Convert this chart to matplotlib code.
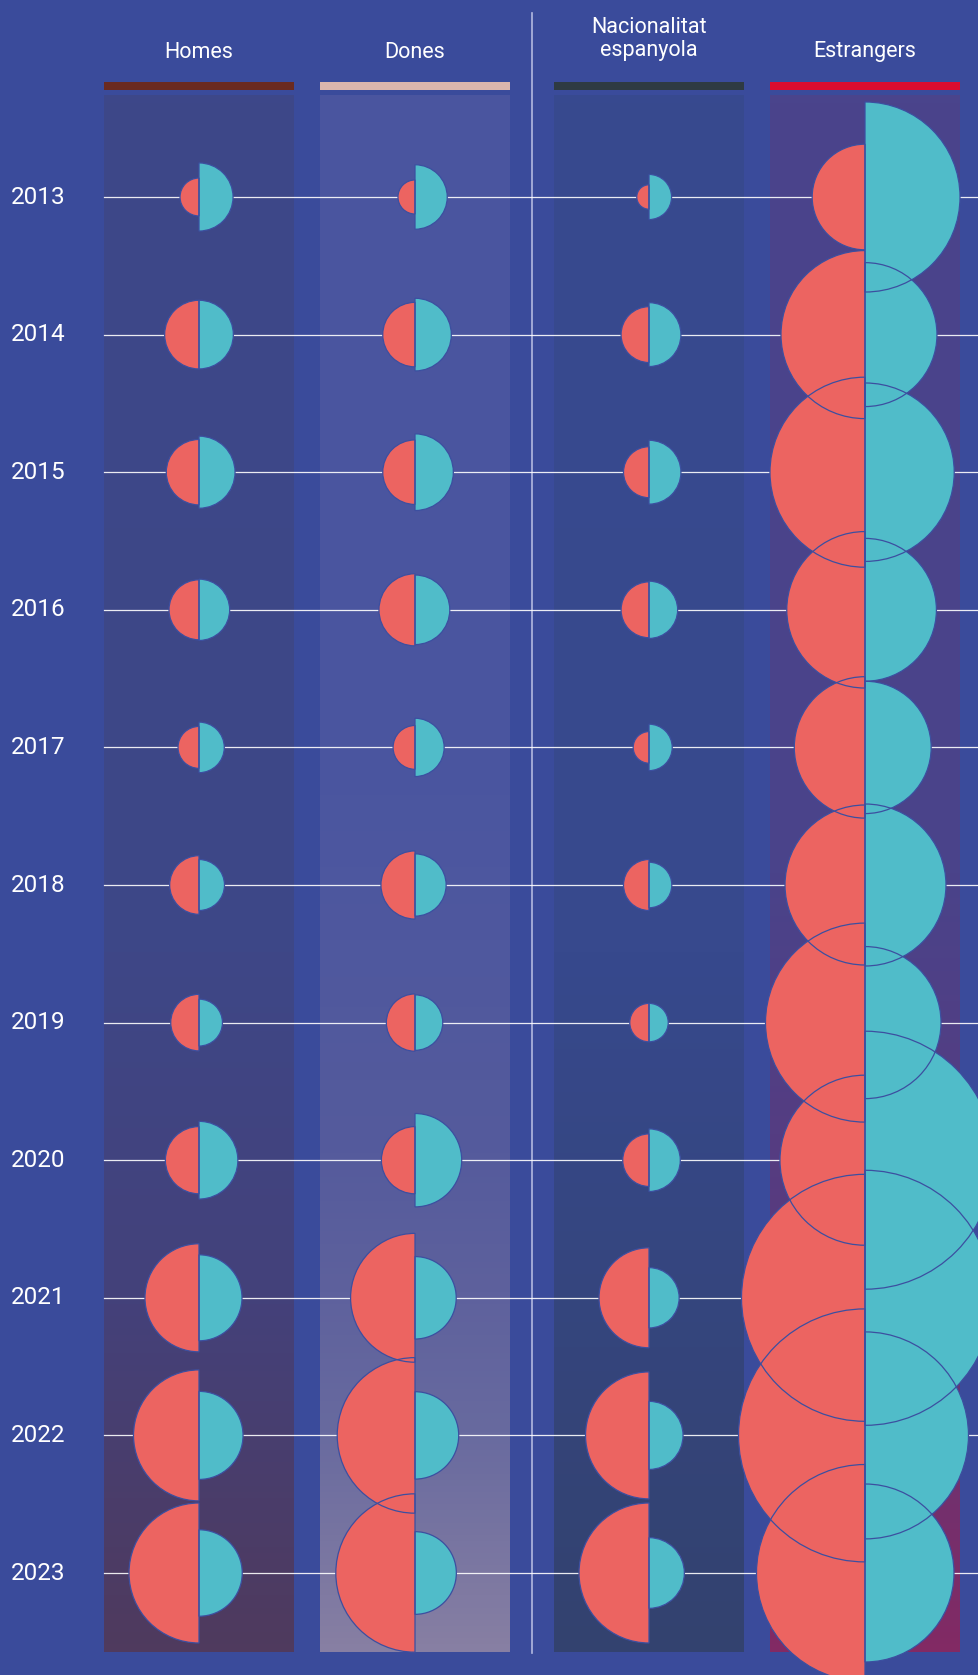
import matplotlib.pyplot as plt
import numpy as np
from matplotlib.patches import Wedge, Rectangle
from matplotlib.colors import LinearSegmentedColormap
from matplotlib import font_manager

# ---------------------------------------------------------------------------
# data (values are area-proportional; radius = 10 * sqrt(value))
years = ['2013', '2014', '2015', '2016', '2017', '2018', '2019', '2020', '2021', '2022', '2023']
groups = ['Homes', 'Dones', 'Nacionalitat\nespanyola', 'Estrangers']

homes_left = [3.6, 11.8, 10.7, 9.0, 4.4, 8.6, 8.0, 11.3, 29.2, 42.9, 49.0]
homes_right = [11.6, 11.8, 13.0, 9.4, 6.4, 6.5, 5.5, 15.1, 18.5, 19.4, 18.7]
dones_left = [2.9, 10.4, 10.4, 13.0, 4.8, 11.6, 8.2, 11.3, 41.5, 60.5, 62.7]
dones_right = [10.4, 13.2, 14.7, 12.1, 8.5, 9.7, 7.7, 21.8, 17.0, 19.1, 17.1]
nac_left = [1.5, 7.8, 6.5, 7.8, 2.5, 6.5, 3.7, 6.9, 25.0, 40.3, 49.0]
nac_right = [5.1, 10.2, 10.2, 8.2, 5.4, 5.2, 3.7, 9.8, 9.1, 11.6, 12.5]
estr_left = [27.9, 70.6, 90.3, 61.2, 50.0, 64.0, 99.0, 72.3, 152.5, 160.0, 117.7]
estr_right = [90.3, 51.8, 79.6, 51.0, 43.8, 65.6, 57.8, 166.4, 162.6, 107.1, 79.2]

left_vals = [homes_left, dones_left, nac_left, estr_left]
right_vals = [homes_right, dones_right, nac_right, estr_right]

# ---------------------------------------------------------------------------
bg = '#3a4b9b'
coral = '#ec6461'
cyan = '#50bcc9'
edge = '#3c4fa0'
bar_colors = ['#6a2a20', '#dbb6ad', '#2e3a42', '#dc0c2e']
panel_stops = [
    [(0.0, '#3d4789'), (0.55, '#3e4787'), (0.78, '#44417a'), (1.0, '#4f3a5e')],
    [(0.0, '#4a559f'), (0.45, '#4b56a0'), (0.68, '#555b9c'), (0.77, '#5e619d'),
     (0.86, '#686a9f'), (1.0, '#877fa3')],
    [(0.0, '#37498f'), (0.55, '#37498d'), (1.0, '#33426f')],
    [(0.0, '#4a448c'), (0.5, '#4a438a'), (0.75, '#5a3a7e'), (1.0, '#822a64')],
]

available = {f.name for f in font_manager.fontManager.ttflist}
family = [f for f in ['Liberation Sans Narrow', 'Roboto'] if f in available] + ['DejaVu Sans']

W, H = 979, 1675
fig = plt.figure(figsize=(W / 100, H / 100), dpi=100, facecolor=bg)
ax = fig.add_axes([0, 0, 1, 1])
ax.set_xlim(0, W)
ax.set_ylim(H, 0)
ax.axis('off')
ax.set_facecolor(bg)

col_x = [199, 415, 649, 865]
panel_w = 190
panel_top, panel_bot = 95, 1652
row_y = [197 + 137.6 * i for i in range(len(years))]

grad = np.linspace(0, 1, 400).reshape(-1, 1)
for j, name in enumerate(groups):
    x0 = col_x[j] - panel_w / 2
    cm = LinearSegmentedColormap.from_list('p%d' % j, panel_stops[j])
    ax.imshow(grad, extent=(x0, x0 + panel_w, panel_bot, panel_top), aspect='auto',
              cmap=cm, zorder=1, interpolation='bilinear')
    ax.add_patch(Rectangle((x0, 82), panel_w, 8, color=bar_colors[j], lw=0, zorder=2))
    ax.text(col_x[j], 39 if '\n' in name else 52, name, color='white', fontsize=15.5,
            ha='center', va='center', family=family, linespacing=1.15)

# divider
ax.plot([532, 532], [13, 1653], color='#b3b9e0', lw=1.2, zorder=2)

for i, yr in enumerate(years):
    ax.plot([104, W], [row_y[i], row_y[i]], color='white', lw=0.9, alpha=0.9, zorder=2)
    ax.text(11, row_y[i], yr, color='white', fontsize=17.5, ha='left', va='center',
            family=family)

# fills first, then all outlines on top
for j in range(len(groups)):
    for i in range(len(years)):
        rl = 10 * np.sqrt(left_vals[j][i])
        rr = 10 * np.sqrt(right_vals[j][i])
        ax.add_patch(Wedge((col_x[j], row_y[i]), rl, 90, 270, facecolor=coral, lw=0, zorder=3))
        ax.add_patch(Wedge((col_x[j], row_y[i]), rr, -90, 90, facecolor=cyan, lw=0, zorder=3))
for j in range(len(groups)):
    for i in range(len(years)):
        rl = 10 * np.sqrt(left_vals[j][i])
        rr = 10 * np.sqrt(right_vals[j][i])
        ax.add_patch(Wedge((col_x[j], row_y[i]), rl, 90, 270, fill=False, edgecolor=edge,
                           lw=0.9, zorder=4))
        ax.add_patch(Wedge((col_x[j], row_y[i]), rr, -90, 90, fill=False, edgecolor=edge,
                           lw=0.9, zorder=4))

plt.savefig('out.png', dpi=100, facecolor=bg)
